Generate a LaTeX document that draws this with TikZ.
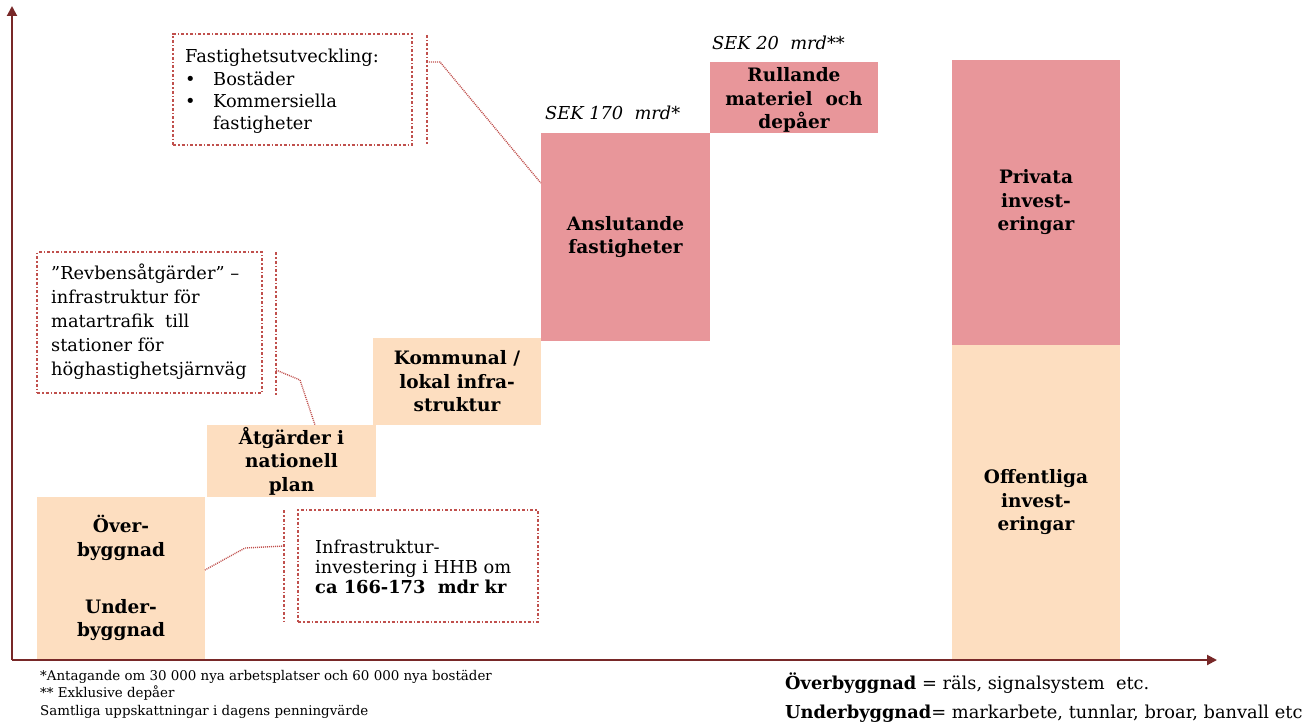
\documentclass[tikz,border=0pt]{standalone}
\usepackage{fontspec}
\setmainfont{DejaVu Serif}
\usetikzlibrary{arrows.meta}
\definecolor{peach}{RGB}{253,222,192}
\definecolor{pinkbox}{RGB}{232,150,154}
\definecolor{callred}{RGB}{192,80,77}
\definecolor{axisred}{RGB}{120,40,40}
\begin{document}
\begin{tikzpicture}[x=1pt,y=-1pt,
  bar/.style={draw=none,inner sep=0pt,align=center,font=\fontsize{18.5}{23.5}\selectfont\bfseries},
  calloutbox/.style={draw=callred,line width=1.5pt,dash dot,inner sep=0pt},
  calledge/.style={draw=callred,line width=1.5pt,dash dot},
  leader/.style={draw=callred,line width=1.4pt,dash pattern=on 1pt off 1pt},
  calltext/.style={inner sep=0pt,anchor=north west,align=left},
  axis/.style={draw=axisred,line width=2pt,-{Triangle[length=10pt,width=10pt]}},
  sek/.style={inner sep=0pt,anchor=base west,font=\fontsize{17.8}{20}\selectfont\itshape}
]
\useasboundingbox (0,0) rectangle (1310,725);
% bars
\node[bar,fill=peach,minimum width=168pt,minimum height=163pt] (b1) at (121,578.5) {};
\node[bar] (b1a) at (121,538) {Över-\\byggnad};
\node[bar] (b1b) at (121,620) {Under-\\byggnad};
\node[bar,fill=peach,minimum width=169pt,minimum height=72pt] (b2) at (291.5,461) {Åtgärder i\\nationell\\plan};
\node[bar,fill=peach,minimum width=168pt,minimum height=87pt] (b3) at (457,381.5) {Kommunal /\\lokal infra-\\struktur};
\node[bar,fill=pinkbox,minimum width=169pt,minimum height=208pt] (b4) at (625.5,237) {Anslutande\\fastigheter};
\node[bar,fill=pinkbox,minimum width=168pt,minimum height=71pt] (b5) at (794,97.5) {};
\node[bar] (b5t) at (794,100) {Rullande\\materiel\ \ och\\depåer};
\node[bar,fill=pinkbox,minimum width=168pt,minimum height=285pt] (r1) at (1036,202.5) {Privata\\invest-\\eringar};
\node[bar,fill=peach,minimum width=168pt,minimum height=315pt] (r2) at (1036,502.5) {Offentliga\\invest-\\eringar};
% SEK labels
\node[sek] (s1) at (545,119) {SEK 170\ \ mrd*};
\node[sek] (s2) at (712,50) {SEK 20\ \ mrd**};
% axes
\coordinate (o) at (12,660);
\coordinate (ytop) at (12,6);
\coordinate (xend) at (1217,660);
\draw[axis] (o) -- (ytop);
\draw[axis] (o) -- (xend);
% callout 1
\node[calloutbox,minimum width=239pt,minimum height=111pt] (c1) at (292.5,89.5) {};
\node[calltext,font=\fontsize{17.8}{22.3}\selectfont] (c1t) at (185,49) {Fastighetsutveckling:\\
\makebox[28pt][l]{•}Bostäder\\
\makebox[28pt][l]{•}Kommersiella\\
\hspace*{28pt}fastigheter};
\coordinate (e1a) at (427,35); \coordinate (e1b) at (427,145);
\draw[calledge] (e1a) -- (e1b);
\coordinate (l1a) at (427,62); \coordinate (l1b) at (440,62);
\coordinate (l1c) at (b4.west |- 0,183);
\draw[leader] (l1a) -- (l1b) -- (l1c);
% callout 2
\node[calloutbox,minimum width=225pt,minimum height=141pt] (c2) at (149.5,322.5) {};
\node[calltext,font=\fontsize{17.8}{24}\selectfont] (c2t) at (51,264) {”Revbensåtgärder” –\\infrastruktur för\\matartrafik\ \ till\\stationer för\\höghastighetsjärnväg};
\coordinate (e2a) at (276,252); \coordinate (e2b) at (276,395);
\draw[calledge] (e2a) -- (e2b);
\coordinate (l2a) at (276,370); \coordinate (l2b) at (300,380);
\coordinate (l2c) at (315,425);
\draw[leader] (l2a) -- (l2b) -- (l2c);
% callout 3
\node[calloutbox,minimum width=240pt,minimum height=112pt] (c3) at (418,566) {};
\node[calltext,font=\fontsize{17.8}{20}\selectfont] (c3t) at (315,540) {Infrastruktur-\\investering i HHB om\\\textbf{ca 166-173\ \ mdr kr}};
\coordinate (e3a) at (284,510); \coordinate (e3b) at (284,622);
\draw[calledge] (e3a) -- (e3b);
\coordinate (l3a) at (284,546); \coordinate (l3b) at (245,548);
\coordinate (l3c) at (205,570);
\draw[leader] (l3a) -- (l3b) -- (l3c);
% footnotes
\node[inner sep=0pt,anchor=north west,align=left,font=\fontsize{13.4}{17.5}\selectfont] (fn) at (40,670) {*Antagande om 30 000 nya arbetsplatser och 60 000 nya bostäder\\** Exklusive depåer\\Samtliga uppskattningar i dagens penningvärde};
% legend
\node[inner sep=0pt,anchor=north west,align=left,font=\fontsize{17.8}{29}\selectfont] (lg) at (785,673) {\textbf{Överbyggnad} = räls, signalsystem\ \ etc.\\\textbf{Underbyggnad}= markarbete, tunnlar, broar, banvall etc};
\end{tikzpicture}
\end{document}
